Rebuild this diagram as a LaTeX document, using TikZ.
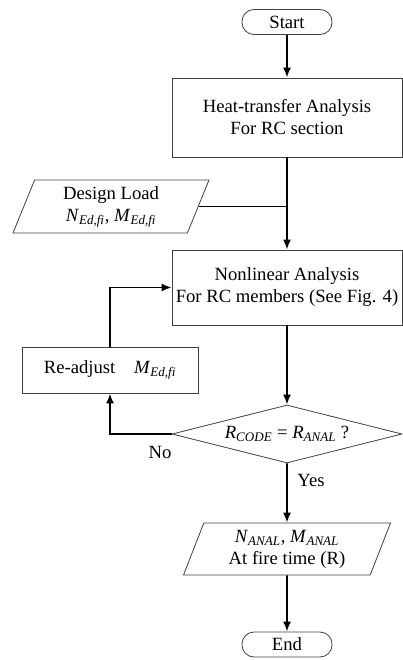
\documentclass[tikz,border=0pt]{standalone}
\usepackage{fontspec}
\setmainfont{Liberation Serif}
\usetikzlibrary{shapes.geometric,arrows.meta}
\newcommand\mysub[2]{\textit{#1}\textsubscript{\textit{#2}}}
\begin{document}
\begin{tikzpicture}[x=0.75pt,y=-0.75pt,
 every node/.style={font=\fontsize{14}{16.5}\selectfont, align=center, inner sep=0pt},
 proc/.style={draw=black!75, line width=0.6pt, rectangle},
 term/.style={draw=black!75, line width=0.6pt, rounded corners=9pt, minimum width=67.5pt, minimum height=18.75pt},
 io/.style={draw=black!75, line width=0.6pt, trapezium, trapezium left angle=62, trapezium right angle=118, trapezium stretches body},
 dec/.style={draw=black!75, line width=0.6pt, diamond, aspect=4},
 conn/.style={line width=1.3pt, -{Latex[length=7.5pt,width=6pt]}},
 plain/.style={line width=1.3pt}]
\useasboundingbox (0,0) rectangle (403,660);
\node[term] (start) at (287,22) {Start};
\node[proc, minimum width=172.5pt, minimum height=59.25pt] (heat) at (287,117.5) {Heat-transfer Analysis\\For RC section};
\node[io, minimum width=147pt, minimum height=39.75pt] (design) at (111,206.5) {Design Load\\\mysub{N}{Ed,f{}i}, \mysub{M}{Ed,f{}i}};
\node[proc, minimum width=172.5pt, minimum height=56.25pt] (nonlin) at (287,287.5) {Nonlinear Analysis\\For RC members (See Fig. 4)};
\node[proc, minimum width=132pt, minimum height=34.5pt] (readj) at (110,370) {Re-adjust\quad\mysub{M}{Ed,f{}i}};
\node[dec, minimum width=172.5pt, minimum height=43.5pt] (check) at (287,434) {\mysub{R}{CODE} = \mysub{R}{ANAL} ?};
\node[io, minimum width=155.25pt, minimum height=39pt] (out) at (287,549) {\mysub{N}{ANAL}, \mysub{M}{ANAL}\\At fire time (R)};
\node[term] (stop) at (287,644.5) {End};
\node (no) at (160,452) {No};
\node (yes) at (311,480) {Yes};
\draw[conn] (start) -- (heat);
\draw[conn] (heat) -- (nonlin);
\draw[plain] (design.east) -- (design.east -| heat.south);
\draw[conn] (nonlin) -- (check);
\draw[conn] (check.west) -| (readj.south);
\draw[conn] (readj.north) |- (nonlin.west);
\draw[conn] (check) -- (out);
\draw[conn] (out) -- (stop);
\end{tikzpicture}
\end{document}
